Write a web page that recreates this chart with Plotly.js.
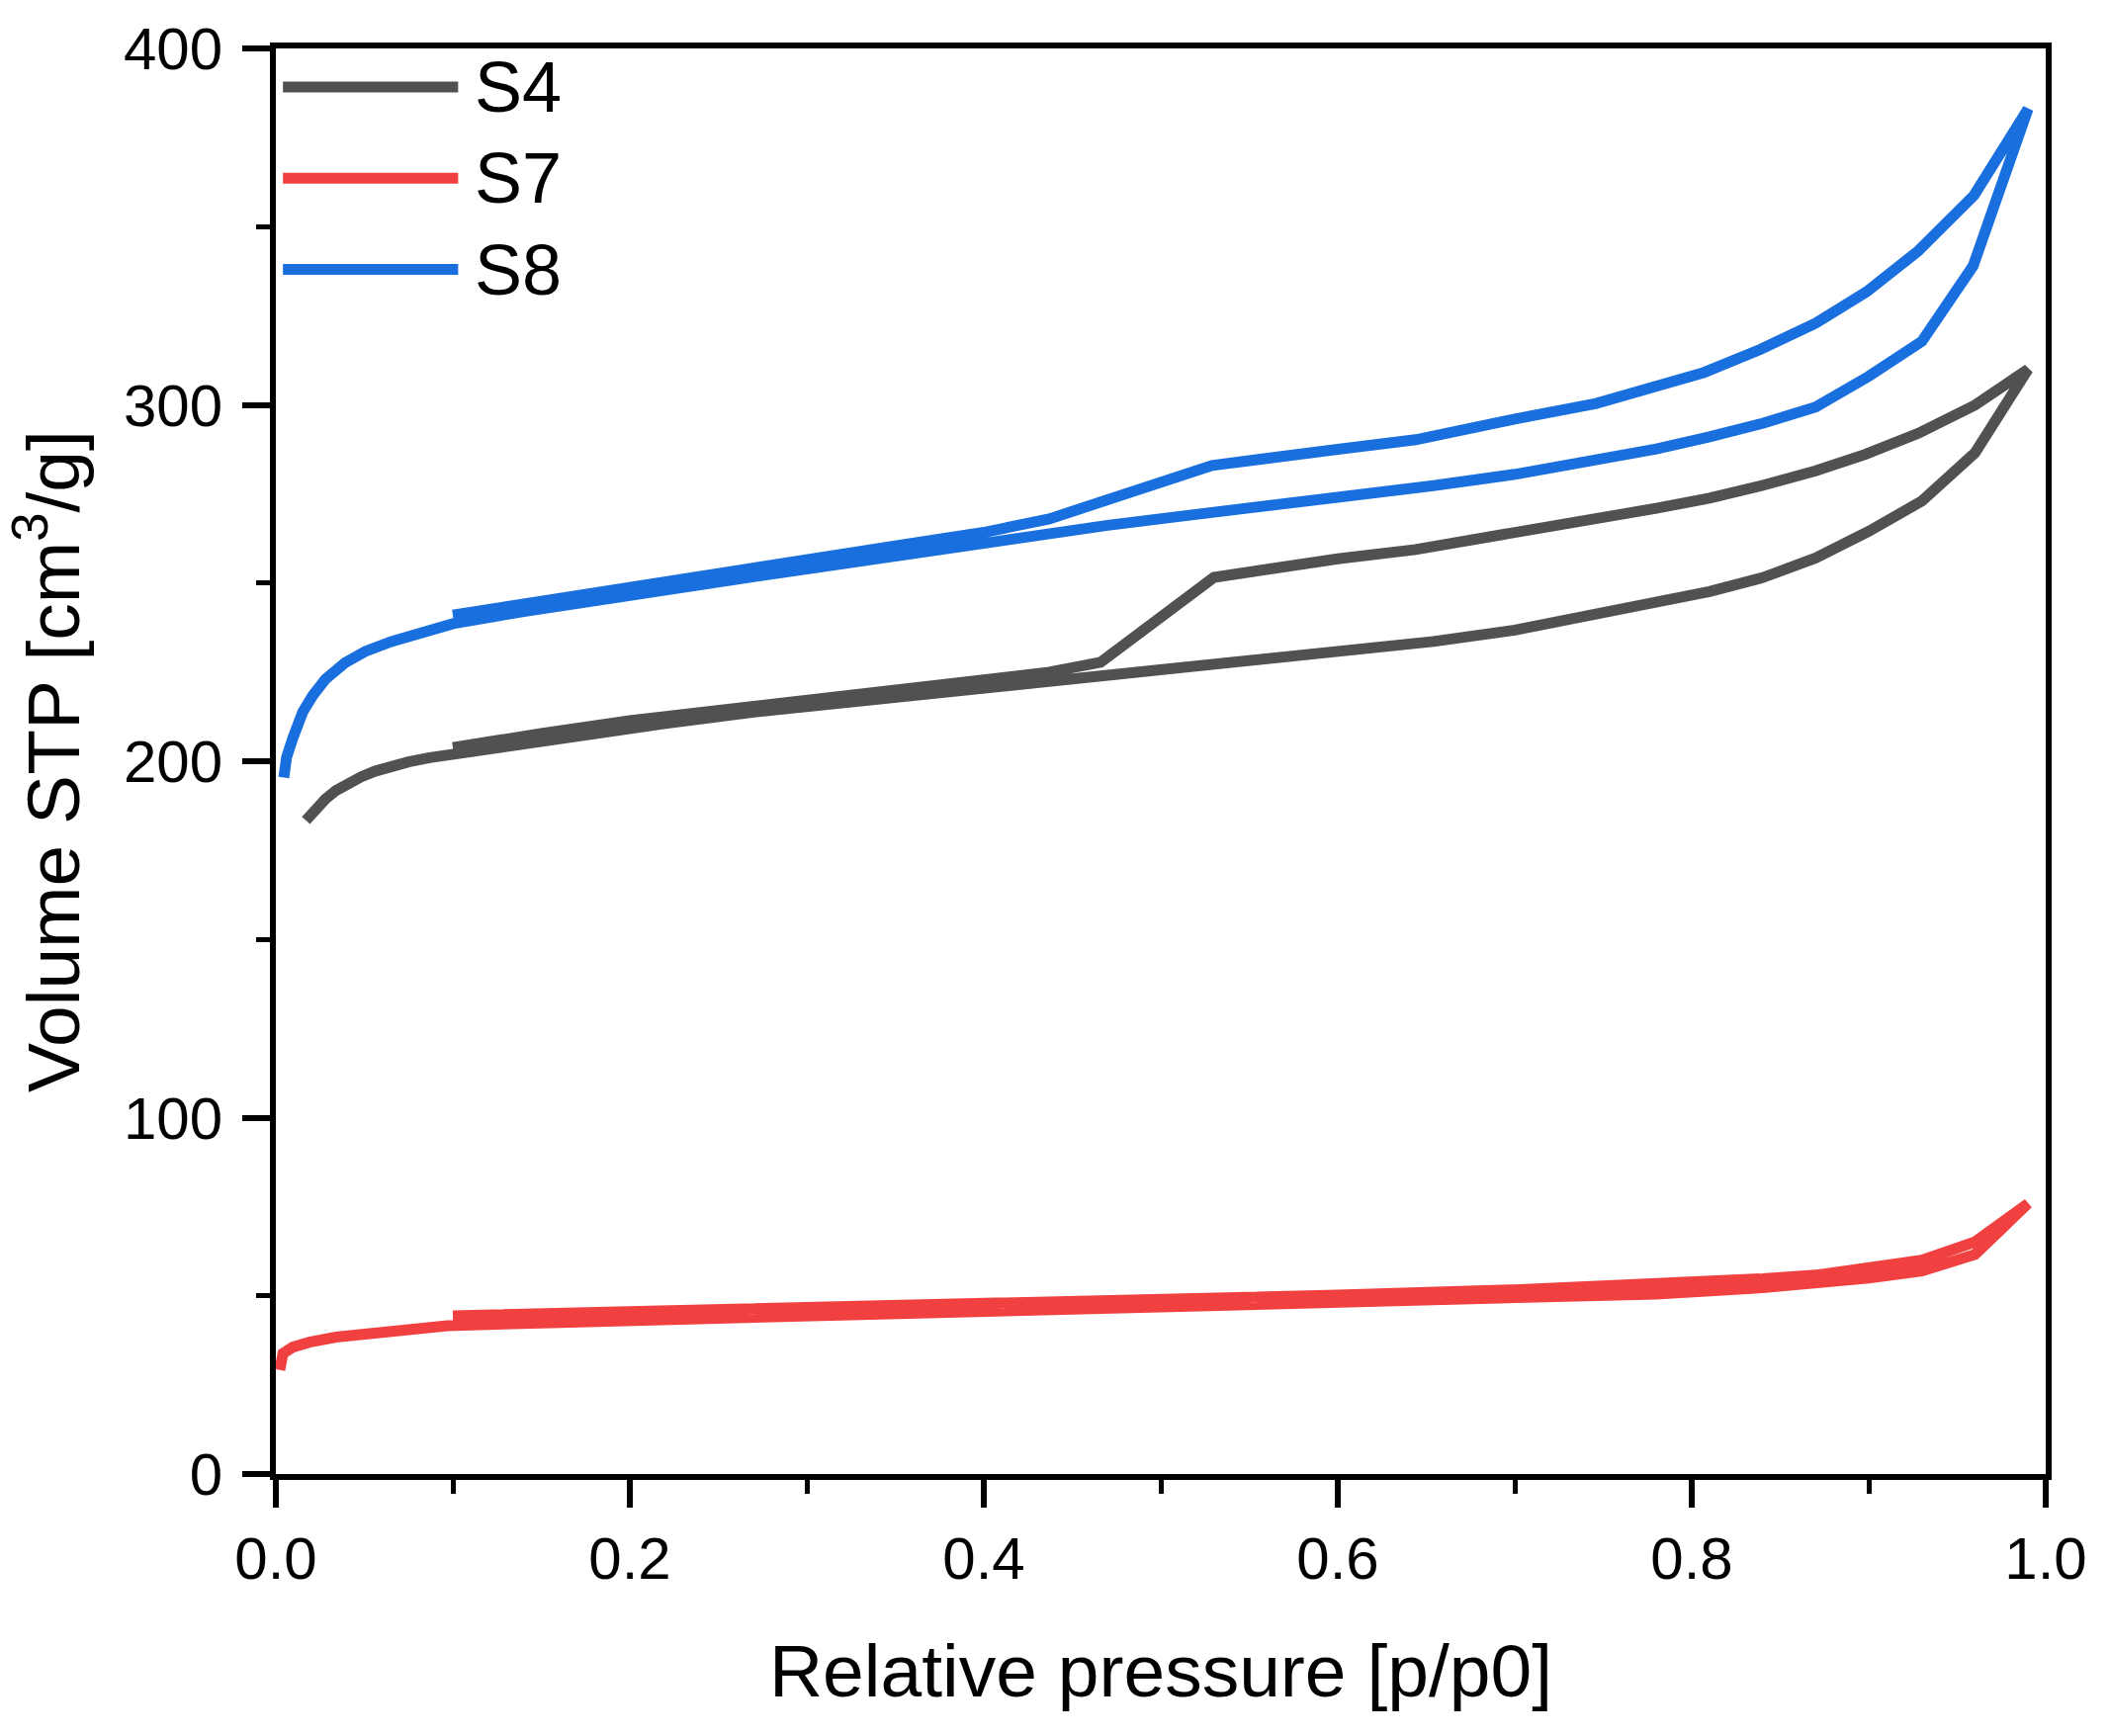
<!DOCTYPE html>
<html>
<head>
<meta charset="utf-8">
<script src="https://cdn.plot.ly/plotly-3.0.1.min.js"></script>
<style>
  html, body { margin: 0; padding: 0; background: #fff; }
  #chart { width: 2133px; height: 1756px; }
</style>
</head>
<body>
<div id="chart"></div>
<script>
// ── Isotherm data (adsorption then desorption) ───────────────────────────────
const seriesNames  = ['S4', 'S7', 'S8'];
const seriesColors = ['#515151', '#F14040', '#1A6FDF'];

// S4
const s4AdsP = [0.017, 0.022, 0.028, 0.034, 0.04, 0.048, 0.056, 0.065, 0.075, 0.087, 0.1,
                0.14, 0.18, 0.22, 0.27, 0.32, 0.37, 0.42, 0.47, 0.514, 0.56, 0.6, 0.654,
                0.7, 0.74, 0.78, 0.81, 0.84, 0.87, 0.9, 0.93, 0.96, 0.99];
const s4AdsV = [183.4, 186.5, 189.4, 191.8, 193.6, 195.6, 197.2, 198.6, 199.8, 201.0, 202.0,
                205.2, 208.0, 210.6, 213.8, 216.4, 219.0, 221.6, 223.8, 226.0, 228.3, 230.3, 233.6,
                236.8, 240.8, 244.2, 247.6, 251.5, 257.0, 264.5, 273.0, 286.5, 310.0];
const s4DesP = [0.96, 0.928, 0.898, 0.87, 0.84, 0.81, 0.78, 0.737, 0.7, 0.644, 0.6, 0.53,
                0.466, 0.437, 0.4, 0.35, 0.3, 0.25, 0.2, 0.15, 0.1];
const s4DesV = [299.9, 292.0, 286.1, 281.5, 277.4, 273.8, 271.0, 267.2, 264.5, 259.4, 256.8, 251.6,
                227.8, 225.0, 222.8, 220.0, 217.3, 214.6, 211.4, 207.8, 203.8];

// S7
const s7AdsP = [0.0022, 0.004, 0.0096, 0.019, 0.034, 0.052, 0.075, 0.097,
                0.15, 0.2, 0.275, 0.35, 0.43, 0.5, 0.6, 0.7, 0.78, 0.84, 0.87, 0.9, 0.93, 0.96, 0.99];
const s7AdsV = [29.2, 33.8, 35.6, 37.0, 38.4, 39.5, 40.9, 41.6,
                42.4, 43.0, 43.9, 44.8, 45.8, 46.6, 47.8, 49.2, 50.5, 52.3, 53.4, 55.0, 57.0, 61.6, 75.9];
const s7DesP = [0.96, 0.93, 0.9, 0.87, 0.84, 0.81, 0.78, 0.737, 0.7, 0.6, 0.5, 0.43, 0.35,
                0.275, 0.2, 0.15, 0.1];
const s7DesV = [65.1, 60.0, 57.6, 55.8, 54.8, 54.0, 53.2, 52.3, 51.7, 50.2, 49.0, 48.2, 47.4,
                46.5, 45.6, 45.0, 44.4];

// S8
const s8AdsP = [0.0045, 0.006, 0.0096, 0.0152, 0.0208, 0.028, 0.039, 0.0505, 0.0653, 0.084, 0.1,
                0.14, 0.18, 0.22, 0.27, 0.32, 0.37, 0.42, 0.437, 0.47, 0.514, 0.56, 0.6, 0.654,
                0.7, 0.74, 0.78, 0.81, 0.84, 0.87, 0.9, 0.93, 0.959, 0.99];
const s8AdsV = [195.4, 201.0, 206.5, 213.8, 218.4, 223.0, 227.6, 230.8, 233.6, 236.3, 238.6,
                242.0, 244.8, 248.0, 251.8, 255.4, 258.9, 262.8, 264.3, 266.2, 268.9, 271.5, 273.8, 277.3,
                280.5, 283.8, 287.6, 291.0, 294.8, 299.4, 308.0, 317.8, 339.0, 383.0];
const s8DesP = [0.9595, 0.928, 0.8987, 0.87, 0.839, 0.807, 0.746, 0.7, 0.644, 0.6, 0.529,
                0.437, 0.4, 0.35, 0.3, 0.25, 0.2, 0.15, 0.1];
const s8DesV = [358.8, 343.2, 331.7, 322.9, 315.6, 309.1, 300.4, 296.0, 290.2, 287.5, 283.0,
                268.0, 264.2, 260.4, 256.7, 252.8, 248.8, 244.9, 241.0];

// Axis ticks
const xTickVals = [0, 0.2, 0.4, 0.6, 0.8, 1.0];
const xTickText = ['0.0', '0.2', '0.4', '0.6', '0.8', '1.0'];
const yTickVals = [0, 100, 200, 300, 400];
const yTickText = ['0', '100', '200', '300', '400'];

const FONT = 'Liberation Sans, Arial, Helvetica, sans-serif';

// ── Traces: one continuous line per sample (ads → des) ──────────────────────
const loops = [
  { p: s4AdsP.concat(s4DesP), v: s4AdsV.concat(s4DesV) },
  { p: s7AdsP.concat(s7DesP), v: s7AdsV.concat(s7DesV) },
  { p: s8AdsP.concat(s8DesP), v: s8AdsV.concat(s8DesV) },
];

const traces = loops.map((l, i) => ({
  x: l.p,
  y: l.v,
  name: seriesNames[i],
  type: 'scatter',
  mode: 'lines',
  line: { color: seriesColors[i], width: 11, shape: 'linear' },
  showlegend: false,
}));

// ── Hand-drawn legend (long line samples like the original) ─────────────────
const legendRowsY = [0.973, 0.909, 0.845];
const shapes = seriesNames.map((n, i) => ({
  type: 'line', xref: 'paper', yref: 'paper',
  x0: 0.004, x1: 0.103, y0: legendRowsY[i], y1: legendRowsY[i],
  line: { color: seriesColors[i], width: 11 },
}));
const annotations = seriesNames.map((n, i) => ({
  text: n, xref: 'paper', yref: 'paper',
  x: 0.111, y: legendRowsY[i], xanchor: 'left', yanchor: 'middle',
  showarrow: false, font: { family: FONT, size: 72, color: '#000' },
}));

// ── Layout ──────────────────────────────────────────────────────────────────
const axisCommon = {
  showline: true, linecolor: '#000', linewidth: 6, mirror: true,
  ticks: 'outside', ticklen: 28, tickwidth: 6, tickcolor: '#000',
  showgrid: false, zeroline: false, automargin: false,
  tickfont: { family: FONT, size: 60, color: '#000' },
};

const layout = {
  width: 2133, height: 1756,
  paper_bgcolor: '#fff', plot_bgcolor: '#fff',
  font: { family: FONT, color: '#000' },
  margin: { l: 279, r: 64, t: 49, b: 265, pad: 0 },
  showlegend: false,
  xaxis: Object.assign({}, axisCommon, {
    range: [0, 1],
    tickvals: xTickVals, ticktext: xTickText,
    ticklabelstandoff: 0,
    minor: { ticks: 'outside', ticklen: 14, tickwidth: 5, tickcolor: '#000', dtick: 0.1, tick0: 0 },
    title: { text: 'Relative pressure [p/p0]', font: { family: FONT, size: 75, color: '#000' }, standoff: 56 },
  }),
  yaxis: Object.assign({}, axisCommon, {
    range: [0, 400],
    tickvals: yTickVals, ticktext: yTickText,
    ticklabelstandoff: 8,
    minor: { ticks: 'outside', ticklen: 14, tickwidth: 5, tickcolor: '#000', dtick: 50, tick0: 0 },
    title: { text: 'Volume STP [cm<sup>3</sup>/g]', font: { family: FONT, size: 75, color: '#000' }, standoff: 28 },
  }),
  shapes: shapes,
  annotations: annotations,
};

Plotly.newPlot('chart', traces, layout, { displayModeBar: false, staticPlot: true });
</script>
</body>
</html>
